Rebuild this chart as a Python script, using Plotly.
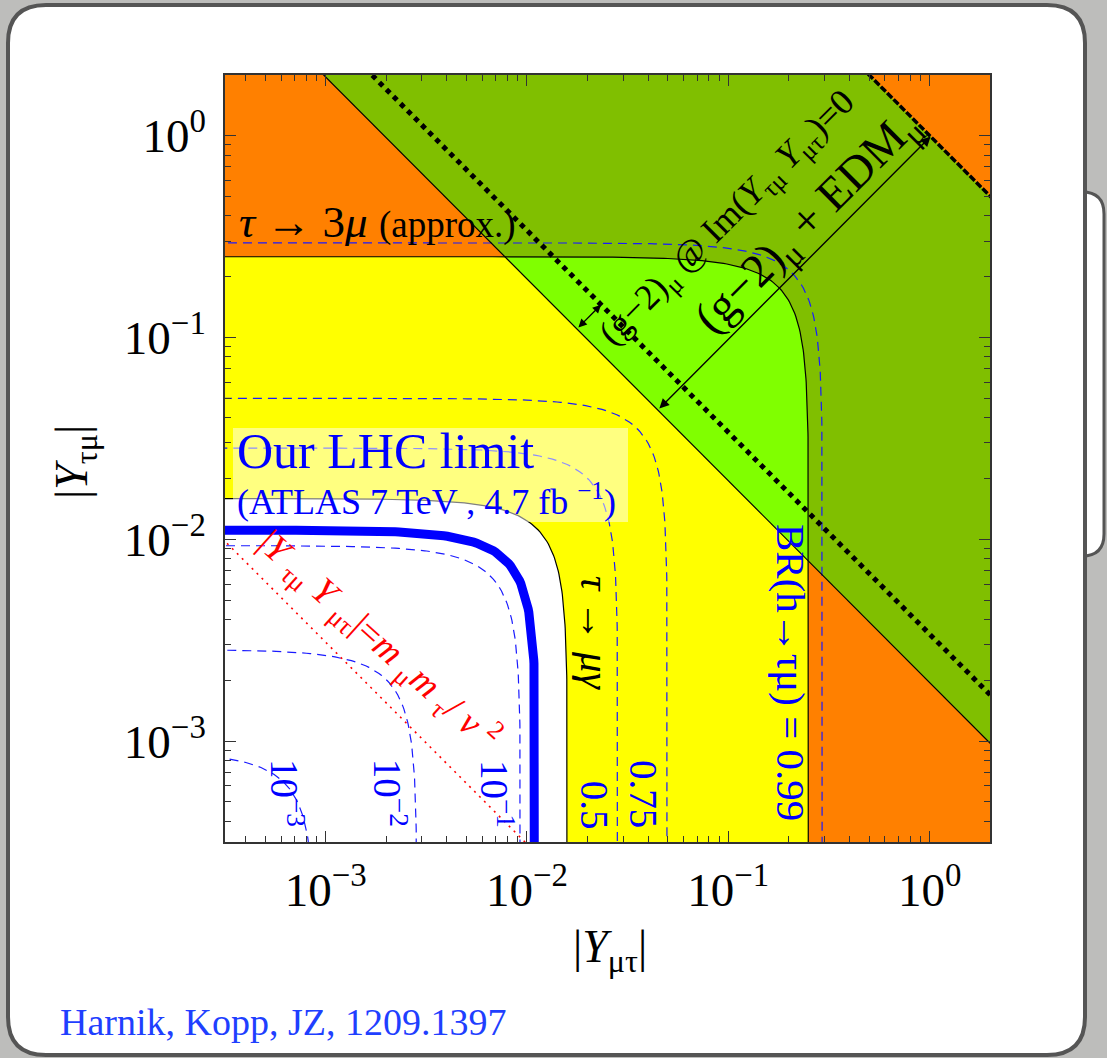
import numpy as np
import plotly.graph_objects as go

# ---------------- data ----------------
axis_range_log = [-3.5, 0.3]                     # both axes, log10 units
major_tick_vals = [1e-3, 1e-2, 1e-1, 1e0]
major_tick_text = ["10<sup>−3</sup>", "10<sup>−2</sup>", "10<sup>−1</sup>", "10<sup>0</sup>"]
minor_tick_mult = [2, 3, 4, 5, 6, 7, 8, 9]
minor_tick_decades = [-4, -3, -2, -1, 0]

# boundaries of the form |Y_mutau|^2 + |Y_taumu|^2 = r^2
tau_mugamma_radius = 0.0159     # inner solid black (tau -> mu gamma)
tau_3mu_radius = 0.251          # outer solid black (tau -> 3 mu approx.)
lhc_limit_radius = 0.0111       # thick blue, our LHC limit
br_labels = ["10<sup>−3</sup>", "10<sup>−2</sup>", "10<sup>−1</sup>", "0.5", "0.75",
             "BR(h→τμ) = 0.99"]
br_radii = [0.00088, 0.00284, 0.0093, 0.0283, 0.0499, 0.294]

# boundaries of the form |Y_mutau * Y_taumu| = c
g2_product = 10 ** -2.71          # (g-2)_mu + EDM_mu  (solid diagonal)
g2_im0_product = 10 ** -2.47      # (g-2)_mu @ Im(...)=0 (thick dotted)
edm_product = 10 ** 0.0           # upper right boundary
naturalness_product = 10 ** -5.51 # |Y Y| = m_mu m_tau / v^2

# colours
ORANGE = "#FF8000"
YELLOW = "#FFFF00"
DARKGREEN = "#80BF00"
LIGHTGREEN = "#80FF00"
BLUE = "#0000FF"
FONT = "Liberation Serif"

EXT_LO, EXT_HI = 1e-7, 10.0


def arc(r, s_lo=-7.0, s_hi=7.0, n=700):
    s = np.linspace(s_lo, s_hi, n)
    t = np.arctan(10.0 ** s)
    return r * np.cos(t), r * np.sin(t)


def hyper(c):
    return [c / EXT_HI, EXT_HI], [EXT_HI, c / EXT_HI]


fig = go.Figure()


def fill(xs, ys, color):
    fig.add_trace(go.Scatter(x=list(xs), y=list(ys), mode="lines", fill="toself",
                             fillcolor=color, line=dict(width=0, color=color),
                             hoverinfo="skip", showlegend=False))


def line(xs, ys, color, width, dash="solid"):
    fig.add_trace(go.Scatter(x=list(xs), y=list(ys), mode="lines",
                             line=dict(color=color, width=width, dash=dash),
                             hoverinfo="skip", showlegend=False))


# orange background (whole range)
fill([EXT_LO, EXT_HI, EXT_HI, EXT_LO], [EXT_LO, EXT_LO, EXT_HI, EXT_HI], ORANGE)
# yellow inside tau->3mu
bx, by = arc(tau_3mu_radius)
fill(list(bx) + [EXT_LO], list(by) + [EXT_LO], YELLOW)
# white inside tau->mu gamma
ix, iy = arc(tau_mugamma_radius)
fill(list(ix) + [EXT_LO], list(iy) + [EXT_LO], "white")
# dark green above (g-2) diagonal
hx, hy = hyper(g2_product)
fill(hx + [EXT_HI], hy + [EXT_HI], DARKGREEN)
# light green: inside tau->3mu and above (g-2) diagonal
t1 = 0.5 * np.arcsin(2 * g2_product / tau_3mu_radius ** 2)
s1 = np.log10(np.tan(t1))
gx, gy = arc(tau_3mu_radius, s1, -s1)
fill(list(gx) + [gx[0]], list(gy) + [gy[0]], LIGHTGREEN)
# orange corner beyond EDM line
ex, ey = hyper(edm_product)
fill(ex + [EXT_HI], ey + [EXT_HI], ORANGE)

# BR(h->tau mu) contours
for r in br_radii:
    cx, cy = arc(r)
    line(cx, cy, "#1a1aff", 1.2, "9px,6px")

# naturalness line
nx, ny = hyper(naturalness_product)
line(nx, ny, "#ff0000", 1.6, "2px,5px")

# black boundaries
line(ix, iy, "black", 1.2)
line(bx, by, "black", 1.2)
line(hx, hy, "black", 1.2)
dx_, dy_ = hyper(g2_im0_product)
line(dx_, dy_, "black", 5, "5px,5px")
line(ex, ey, "black", 3.5, "7px,2px")

# our LHC limit
lx, ly = arc(lhc_limit_radius)
line(lx, ly, BLUE, 9)

# ---------------- axes ----------------
minor_vals = [m * 10.0 ** d for d in minor_tick_decades for m in minor_tick_mult
              if axis_range_log[0] <= np.log10(m * 10.0 ** d) <= axis_range_log[1]]

axis_common = dict(
    type="log", range=axis_range_log, showgrid=False, zeroline=False,
    showline=True, linecolor="#333", linewidth=1.5, mirror="allticks",
    ticks="inside", ticklen=11, tickwidth=1.3, tickcolor="#333",
    tickvals=major_tick_vals, ticktext=major_tick_text,
    tickfont=dict(family=FONT, size=47, color="black"),
    minor=dict(tickvals=minor_vals, ticks="inside", ticklen=6, tickwidth=1, tickcolor="#333"),
)
fig.update_xaxes(**axis_common, ticklabelstandoff=6)
fig.update_yaxes(**axis_common, ticklabelstandoff=8)

L, T, R, B = 225, 75, 990, 842
W, H = 1107, 1058


def PX(px):
    return (px - L) / (R - L)


def PY(py):
    return (B - py) / (B - T)


def rounded(x0, y0, x1, y1, r):
    return (f"M {PX(x0 + r)},{PY(y0)} L {PX(x1 - r)},{PY(y0)} Q {PX(x1)},{PY(y0)} {PX(x1)},{PY(y0 + r)} "
            f"L {PX(x1)},{PY(y1 - r)} Q {PX(x1)},{PY(y1)} {PX(x1 - r)},{PY(y1)} "
            f"L {PX(x0 + r)},{PY(y1)} Q {PX(x0)},{PY(y1)} {PX(x0)},{PY(y1 - r)} "
            f"L {PX(x0)},{PY(y0 + r)} Q {PX(x0)},{PY(y0)} {PX(x0 + r)},{PY(y0)} Z")


shapes = [
    dict(type="path", xref="paper", yref="paper", path=rounded(960, 192, 1104, 556, 22),
         fillcolor="white", line=dict(color="#555", width=3), layer="below"),
    dict(type="path", xref="paper", yref="paper", path=rounded(8, 5, 1085, 1055, 38),
         fillcolor="white", line=dict(color="#555", width=4), layer="below"),
    dict(type="rect", xref="paper", yref="paper", x0=PX(233), x1=PX(628), y0=PY(522), y1=PY(428),
         fillcolor="rgba(255,255,255,0.5)", line=dict(width=0), layer="above"),
]

ann = []


def text(x, y, s, size, color="black", angle=0, xanchor="center"):
    ann.append(dict(x=x, y=y, xref="x", yref="y",
                    text=s, showarrow=False, textangle=angle, xanchor=xanchor, yanchor="middle",
                    font=dict(family=FONT, size=size, color=color)))


text(-3.44, -0.43, "<i>τ</i> → 3<i>μ</i> <span style='font-size:37px'>(approx.)</span>", 45,
     xanchor="left")
text(-1.00, -0.41, "(g−2)<sub>μ</sub> @ Im(<i>Y</i><sub>τμ</sub> <i>Y</i><sub>μτ</sub>)=0", 36,
     angle=-45)
text(-0.60, -0.43, "(g−2)<sub>μ</sub> + EDM<sub>μ</sub>", 47, angle=-45)
text(-3.45, -1.563, "Our LHC limit", 50, color=BLUE, xanchor="left")
text(-3.45, -1.805, "(ATLAS 7 TeV , 4.7 fb <sup>−1</sup>)", 36, color=BLUE, xanchor="left")
text(-1.662, -2.464, "<i>τ</i> → <i>μγ</i>", 41, angle=90)
text(-2.735, -2.50,
     "|<i>Y</i> <sub>τμ</sub> <i>Y</i> <sub>μτ</sub>|=<i>m</i> <sub>μ</sub><i>m</i> <sub>τ</sub>/ <i>v</i> <sup>2</sup>",
     37, color="#ff0000", angle=42)

br_label_pos = [(-3.192, -3.257), (-2.680, -3.257), (-2.149, -3.262), (-1.667, -3.316),
                (-1.424, -3.262), (-0.689, -2.662)]
br_label_size = [39, 39, 39, 39, 39, 41]
for (ux, vy), lab, sz in zip(br_label_pos, br_labels, br_label_size):
    text(ux, vy, lab, sz, color=BLUE, angle=90)

# axis titles & citation
ann.append(dict(x=PX(610), y=PY(950), xref="paper", yref="paper", showarrow=False,
                xanchor="center", yanchor="middle",
                text="|<i>Y</i><sub>μτ</sub>|", font=dict(family=FONT, size=46, color="black")))
ann.append(dict(x=PX(75), y=PY(462), xref="paper", yref="paper", showarrow=False, textangle=-90,
                xanchor="center", yanchor="middle",
                text="|<i>Y</i><sub>τμ</sub>|", font=dict(family=FONT, size=46, color="black")))
ann.append(dict(x=PX(58), y=PY(1022), xref="paper", yref="paper", showarrow=False,
                xanchor="left", yanchor="middle",
                text="Harnik, Kopp, JZ, 1209.1397", font=dict(family=FONT, size=38, color="#1f3fff")))

# arrows (perpendicular to the diagonal bounds, in log space)
big_u0 = -1.35
big_v0 = np.log10(g2_product) - big_u0
big_d = (np.log10(edm_product) - np.log10(g2_product)) / 2
ann.append(dict(x=big_u0 + big_d, y=big_v0 + big_d, ax=big_u0, ay=big_v0,
                xref="x", yref="y", axref="x", ayref="y", text="", showarrow=True,
                arrowhead=2, startarrowhead=2, arrowside="end+start", arrowsize=1.4,
                startarrowsize=1.4, arrowwidth=1.4, arrowcolor="black"))
sm_u0 = -1.752
sm_v0 = np.log10(g2_product) - sm_u0
sm_d = (np.log10(g2_im0_product) - np.log10(g2_product)) / 2
ann.append(dict(x=sm_u0 + sm_d, y=sm_v0 + sm_d, ax=sm_u0, ay=sm_v0,
                xref="x", yref="y", axref="x", ayref="y", text="", showarrow=True,
                arrowhead=2, startarrowhead=2, arrowside="end+start", arrowsize=1.2,
                startarrowsize=1.2, arrowwidth=1.4, arrowcolor="black"))

fig.update_layout(
    width=W, height=H, autosize=False,
    margin=dict(l=L, r=W - R, t=T, b=H - B, pad=0),
    paper_bgcolor="#bdbdbb", plot_bgcolor="rgba(0,0,0,0)",
    shapes=shapes, annotations=ann, showlegend=False,
    font=dict(family=FONT),
)

fig.write_html("out.html")
